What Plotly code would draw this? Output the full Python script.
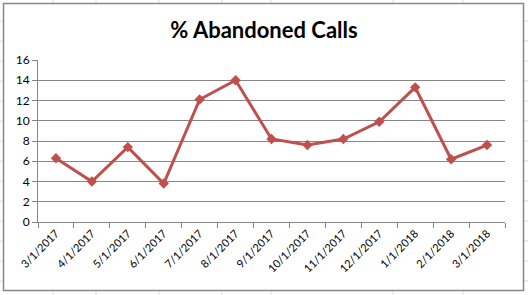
import plotly.graph_objects as go

months = ["3/1/2017", "4/1/2017", "5/1/2017", "6/1/2017", "7/1/2017", "8/1/2017",
          "9/1/2017", "10/1/2017", "11/1/2017", "12/1/2017", "1/1/2018", "2/1/2018", "3/1/2018"]
abandoned_pct = [6.3, 4.0, 7.4, 3.8, 12.1, 14.0, 8.2, 7.6, 8.2, 9.9, 13.3, 6.2, 7.6]
y_ticks = [0, 2, 4, 6, 8, 10, 12, 14, 16]

W, H = 528, 295
L, R, T, B = 38, 23, 60, 73
pw, ph = W - L - R, H - T - B

def px(x):
    return (x - L) / pw

def py(y):
    return (H - B - y) / ph

shapes = []
# faint spreadsheet cell lines visible around the chart
for cx in [53, 96, 159, 222, 271, 393, 463]:
    for (a, b) in [(0, 3), (291, 295)]:
        shapes.append(dict(type="line", xref="paper", yref="paper",
                           x0=px(cx), x1=px(cx), y0=py(a), y1=py(b),
                           line=dict(color="#D9D9D9", width=1), layer="below"))
for cy in range(21, 295, 20):
    for (a, b) in [(0, 3), (524, 528)]:
        shapes.append(dict(type="line", xref="paper", yref="paper",
                           x0=px(a), x1=px(b), y0=py(cy), y1=py(cy),
                           line=dict(color="#D9D9D9", width=1), layer="below"))
shapes.append(dict(type="rect", xref="paper", yref="paper",
                   x0=px(3.5), x1=px(523.5), y0=py(290.5), y1=py(3.5),
                   line=dict(color="#878787", width=1.5), fillcolor="rgba(0,0,0,0)",
                   layer="below"))

fig = go.Figure()
fig.add_trace(go.Scatter(
    x=months, y=abandoned_pct, mode="lines+markers",
    line=dict(color="#C0504D", width=3),
    marker=dict(symbol="diamond", size=8, color="#C0504D"),
    showlegend=False, hoverinfo="x+y",
))

fig.update_layout(
    width=W, height=H, autosize=False,
    margin=dict(l=L, r=R, t=T, b=B),
    paper_bgcolor="white", plot_bgcolor="white",
    font=dict(family="Lato, Calibri, sans-serif", size=11, color="#000000"),
    title=dict(text="<b>% Abandoned Calls</b>", x=0.5, xanchor="center",
               y=1 - 30 / H, yanchor="middle",
               font=dict(family="Lato, Calibri, sans-serif", size=22, color="#000000")),
    xaxis=dict(type="category", tickangle=-45, showgrid=False,
               showline=True, linecolor="#868686", linewidth=1,
               ticks="outside", tickson="boundaries", ticklen=5, tickcolor="#868686",
               tickfont=dict(size=11), range=[-0.5, len(months) - 0.5]),
    yaxis=dict(range=[0, 16], tickvals=y_ticks, showgrid=True, gridcolor="#868686",
               gridwidth=1, showline=True, linecolor="#868686", linewidth=1,
               ticks="outside", ticklen=5, tickcolor="#868686",
               tickfont=dict(size=12), zeroline=False),
    shapes=shapes,
)

fig.write_html("out.html")
